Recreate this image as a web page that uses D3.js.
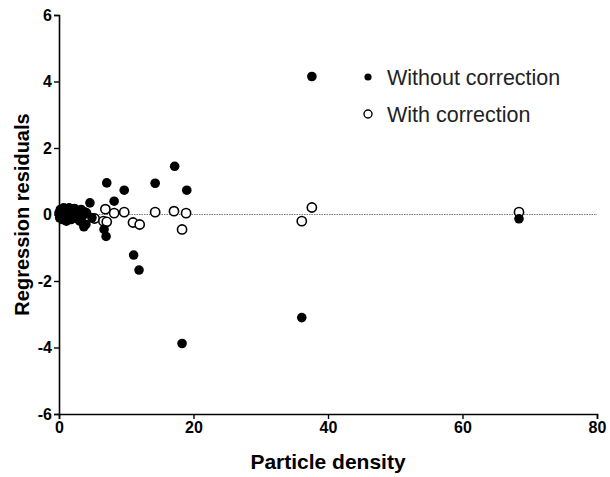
<!DOCTYPE html>
<html>
<head>
<meta charset="utf-8">
<script src="https://cdn.jsdelivr.net/npm/d3@7"></script>
<style>
  body { margin: 0; background: #fff; }
  svg text { font-family: "Liberation Sans", Arial, sans-serif; }
</style>
</head>
<body>
<div id="chart"></div>
<script>
// residuals
var withoutX = [0.0, 0.1, 0.2, 0.3, 0.4, 0.5, 0.6, 0.7, 0.8, 0.9, 1.0, 1.1, 1.2, 1.3, 1.4, 1.5, 1.6, 1.8, 2.0, 2.1, 2.3, 2.4, 2.6, 2.8, 3.0, 3.1, 3.3, 3.5, 3.8, 4.1,
                4.0, 3.7, 4.6, 4.9, 6.7, 7.0, 7.1, 8.2, 9.7, 11.1, 11.9, 14.3, 17.2, 19.0, 18.3, 36.1, 37.6, 68.4];
var withoutY = [0.05, -0.1, 0.15, -0.05, 0.1, -0.15, 0.0, 0.2, -0.1, 0.05, 0.15, -0.2, 0.0, 0.1, -0.1, 0.2, 0.05, -0.15, 0.1, -0.05, 0.18, 0.0, -0.12, 0.12, 0.05, -0.2, 0.15, -0.05, 0.08, 0.05,
                -0.3, -0.37, 0.35, -0.1, -0.45, -0.66, 0.95, 0.4, 0.73, -1.22, -1.67, 0.94, 1.45, 0.73, -3.88, -3.1, 4.15, -0.13];

var withX = [0.2, 0.8, 1.5, 2.2, 2.8, 3.6, 4.3, 5.3, 6.6, 6.9, 7.1, 8.2, 9.7, 11.0, 12.0, 14.3, 17.1, 18.3, 18.9, 36.1, 37.6, 68.4];
var withY = [0.0, 0.04, -0.02, 0.03, -0.05, -0.2, -0.1, -0.12, -0.2, 0.16, -0.22, 0.04, 0.07, -0.24, -0.3, 0.07, 0.1, -0.45, 0.04, -0.2, 0.21, 0.07];

var xTicks = [0, 20, 40, 60, 80];
var yTicks = [-6, -4, -2, 0, 2, 4, 6];
var seriesNames = ["Without correction", "With correction"];

var width = 610, height = 477;
var margin = {top: 15, right: 13, bottom: 63, left: 59};

var svg = d3.select("#chart").append("svg")
    .attr("width", width)
    .attr("height", height);

var x = d3.scaleLinear().domain([0, 80]).range([margin.left, width - margin.right]);
var y = d3.scaleLinear().domain([-6, 6]).range([height - margin.bottom, margin.top]);

// zero reference line
svg.append("line")
    .attr("x1", x(0)).attr("x2", x(80))
    .attr("y1", y(0)).attr("y2", y(0))
    .attr("stroke", "#555")
    .attr("stroke-width", 0.8)
    .attr("stroke-dasharray", "1.5,1");

// axes - plain hyphen for negatives like the original
var fmt = function (d) { return String(d); };
var xAxis = svg.append("g")
    .attr("transform", "translate(0," + y(-6) + ")")
    .call(d3.axisBottom(x).tickValues(xTicks).tickFormat(fmt).tickSize(5).tickPadding(3));
var yAxis = svg.append("g")
    .attr("transform", "translate(" + x(0) + ",0)")
    .call(d3.axisLeft(y).tickValues(yTicks).tickFormat(fmt).tickSize(5).tickPadding(2));

[xAxis, yAxis].forEach(function (g) {
    g.select(".domain").attr("stroke", "#000").attr("stroke-width", 1.6);
    g.selectAll(".tick line").attr("stroke", "#000").attr("stroke-width", 1.4);
    g.selectAll(".tick text")
        .attr("fill", "#000")
        .style("font-size", "16px")
        .style("font-weight", "bold")
        .style("font-family", "'Liberation Sans', Arial, sans-serif");
});

var filled = withoutX.map(function (d, i) { return {x: d, y: withoutY[i]}; });
var open = withX.map(function (d, i) { return {x: d, y: withY[i]}; });

// open circles (with correction) under the filled ones
svg.append("g").selectAll("circle").data(open)
    .enter().append("circle")
    .attr("cx", function (d) { return x(d.x); })
    .attr("cy", function (d) { return y(d.y); })
    .attr("r", 4.6)
    .attr("fill", "#fff")
    .attr("stroke", "#000")
    .attr("stroke-width", 1.6);

svg.append("g").selectAll("circle").data(filled)
    .enter().append("circle")
    .attr("cx", function (d) { return x(d.x); })
    .attr("cy", function (d) { return y(d.y); })
    .attr("r", 4.8)
    .attr("fill", "#000");

// axis titles
svg.append("text")
    .attr("x", (x(0) + x(80)) / 2)
    .attr("y", 469)
    .attr("text-anchor", "middle")
    .style("font-size", "21px")
    .style("font-weight", "bold")
    .text("Particle density");

svg.append("text")
    .attr("transform", "translate(29," + y(0) + ") rotate(-90)")
    .attr("text-anchor", "middle")
    .style("font-size", "20px")
    .style("font-weight", "bold")
    .text("Regression residuals");

// legend
var legend = svg.append("g").attr("transform", "translate(368,77)");
seriesNames.forEach(function (name, i) {
    var row = legend.append("g").attr("transform", "translate(0," + (i * 37) + ")");
    if (i == 0) {
        row.append("circle").attr("r", 3.6).attr("fill", "#000");
    } else {
        row.append("circle").attr("r", 4).attr("fill", "#fff")
            .attr("stroke", "#000").attr("stroke-width", 1.4);
    }
    row.append("text")
        .attr("x", 19)
        .attr("y", 8)
        .style("font-size", "21.5px")
        .attr("fill", "#222")
        .text(name);
});
</script>
</body>
</html>
